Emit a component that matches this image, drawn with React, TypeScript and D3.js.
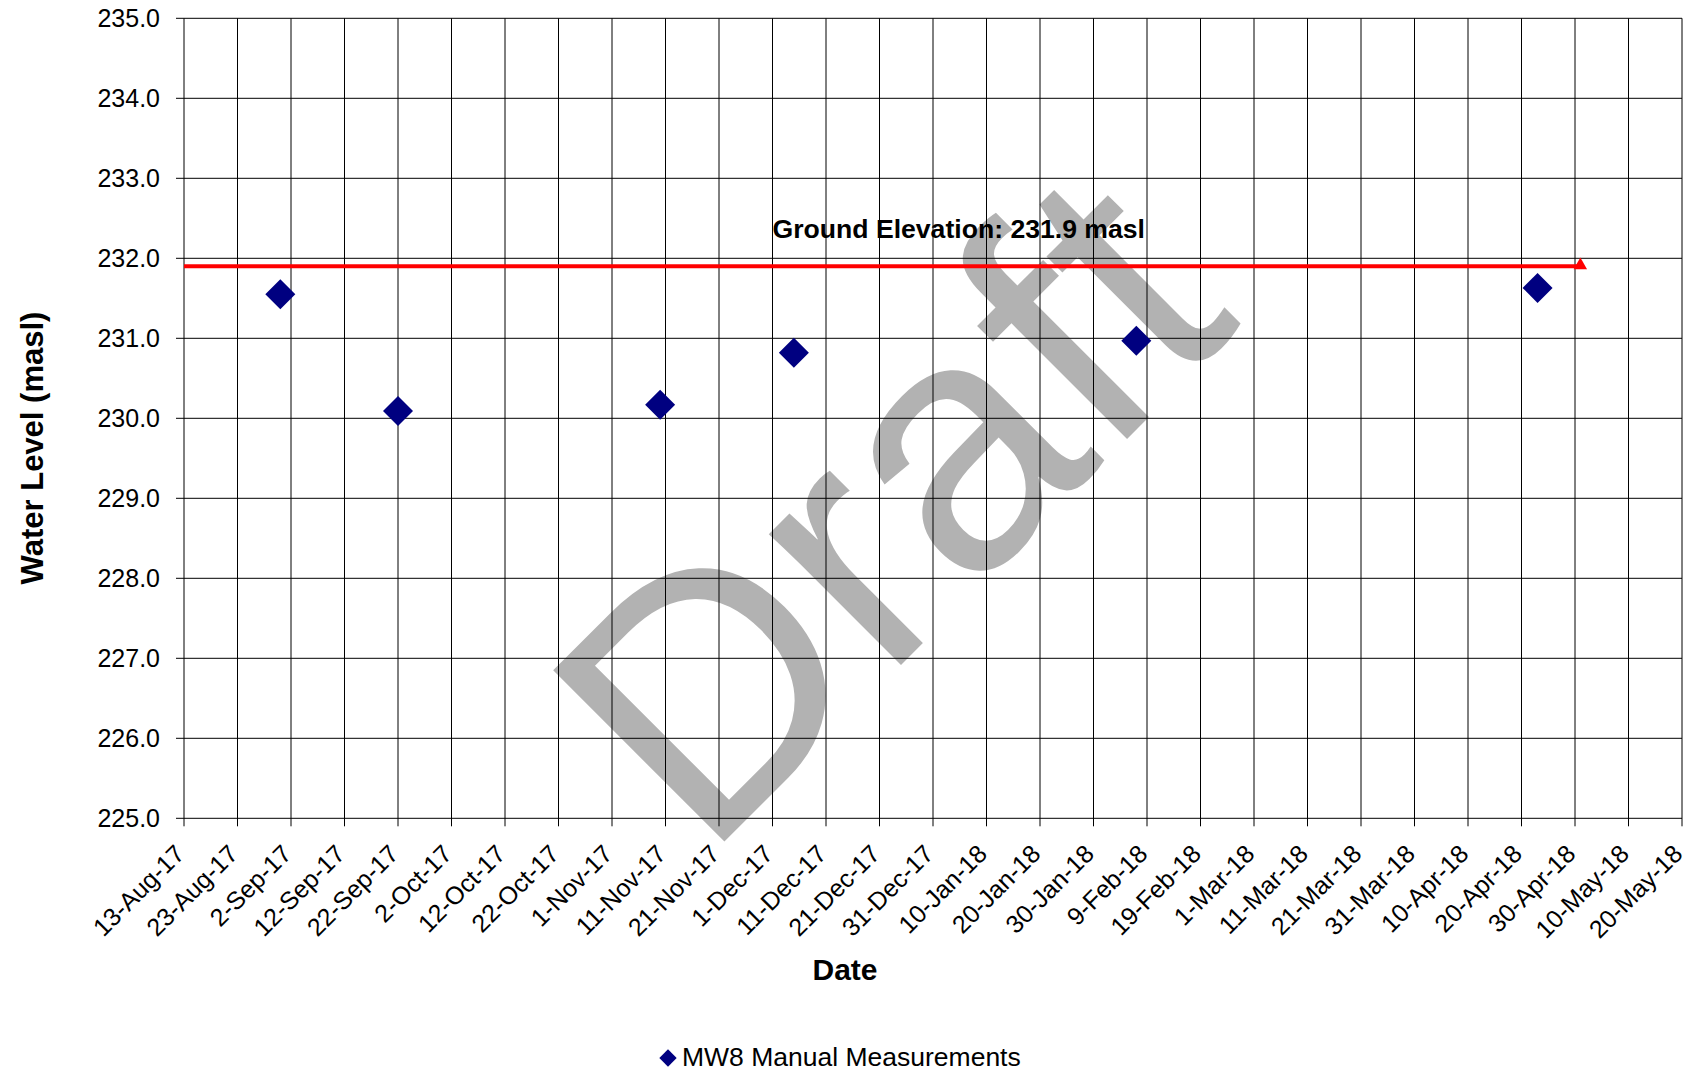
import React, { useEffect, useRef } from "react";
import * as d3 from "d3";

// ── Data ──────────────────────────────────────────────────────────────────────
const measureDates = ["2017-08-31", "2017-09-22", "2017-11-10", "2017-12-05", "2018-02-07", "2018-04-23"];
const measureLevels = [231.55, 230.09, 230.17, 230.82, 230.97, 231.63];

const groundDates = ["2017-08-13", "2018-05-01"];
const groundLevel = 231.9;
const groundLabel = "Ground Elevation: 231.9 masl";
const groundLabelDate = "2017-12-01";

const yTicks = [225, 226, 227, 228, 229, 230, 231, 232, 233, 234, 235];
const xStart = "2017-08-13";
const xEnd = "2018-05-20";

const seriesName = "MW8 Manual Measurements";
const yTitle = "Water Level (masl)";
const xTitle = "Date";
const watermark = "Draft";

const W = 1696;
const H = 1073;
const M = { left: 184, right: 14, top: 18.3, bottom: 254.7 };
const FONT = "'Liberation Sans', Arial, sans-serif";

const parse = d3.timeParse("%Y-%m-%d");
const fmt = d3.timeFormat("%-d-%b-%y");

export default function App() {
  const ref = useRef<SVGSVGElement>(null);

  useEffect(() => {
    const svg = d3.select(ref.current);
    svg.selectAll("*").remove();

    const x = d3
      .scaleTime()
      .domain([parse(xStart)!, parse(xEnd)!])
      .range([M.left, W - M.right]);
    const y = d3
      .scaleLinear()
      .domain([225, 235])
      .range([H - M.bottom, M.top]);

    // a tick every 10 days, starting on the first day
    const xTicks = d3.timeDay
      .range(parse(xStart)!, d3.timeDay.offset(parse(xEnd)!, 1))
      .filter((_, i) => i % 10 === 0);

    svg.append("rect").attr("width", W).attr("height", H).attr("fill", "#fff");

    // watermark sits behind the grid
    svg
      .append("text")
      .attr("transform", "translate(704,862) rotate(-45)")
      .attr("font-family", FONT)
      .attr("font-size", 352)
      .attr("fill", "#b2b2b2")
      .text(watermark);

    // grid + tick marks
    const grid = svg.append("g").attr("stroke", "#000").attr("stroke-width", 1);
    grid
      .selectAll("line.h")
      .data(yTicks)
      .join("line")
      .attr("class", "h")
      .attr("x1", M.left - 8)
      .attr("x2", W - M.right)
      .attr("y1", (d) => y(d))
      .attr("y2", (d) => y(d));
    grid
      .selectAll("line.v")
      .data(xTicks)
      .join("line")
      .attr("class", "v")
      .attr("x1", (d) => x(d))
      .attr("x2", (d) => x(d))
      .attr("y1", M.top)
      .attr("y2", H - M.bottom + 8);

    // y labels
    svg
      .append("g")
      .selectAll("text")
      .data(yTicks)
      .join("text")
      .attr("x", M.left - 24)
      .attr("y", (d) => y(d))
      .attr("dy", "0.36em")
      .attr("text-anchor", "end")
      .attr("font-family", FONT)
      .attr("font-size", 25)
      .attr("fill", "#000")
      .text((d) => d.toFixed(1));

    // x labels (rotated)
    svg
      .append("g")
      .selectAll("text")
      .data(xTicks)
      .join("text")
      .attr("transform", (d) => `translate(${x(d) + 2},${H - M.bottom + 37}) rotate(-45)`)
      .attr("text-anchor", "end")
      .attr("font-family", FONT)
      .attr("font-size", 25)
      .attr("fill", "#000")
      .text((d) => fmt(d));

    // ground elevation line
    const line = d3
      .line<string>()
      .x((d) => x(parse(d)!))
      .y(() => y(groundLevel));
    svg
      .append("path")
      .attr("d", line(groundDates))
      .attr("fill", "none")
      .attr("stroke", "#ff0000")
      .attr("stroke-width", 4);
    svg
      .append("path")
      .attr("d", d3.symbol(d3.symbolTriangle, 78)())
      .attr("transform", `translate(${x(parse(groundDates[1])!)},${y(groundLevel) - 1})`)
      .attr("fill", "#ff0000");

    svg
      .append("text")
      .attr("x", x(parse(groundLabelDate)!))
      .attr("y", y(groundLevel) - 28)
      .attr("font-family", FONT)
      .attr("font-size", 26.6)
      .attr("font-weight", "bold")
      .attr("fill", "#000")
      .text(groundLabel);

    // measurements
    const diamond = d3.symbol(d3.symbolSquare, 450)();
    svg
      .append("g")
      .selectAll("path")
      .data(measureDates.map((d, i) => ({ d: parse(d)!, v: measureLevels[i] })))
      .join("path")
      .attr("d", diamond)
      .attr("transform", (p) => `translate(${x(p.d)},${y(p.v)}) rotate(45)`)
      .attr("fill", "#000080");

    // axis titles
    svg
      .append("text")
      .attr("transform", `translate(43,448) rotate(-90)`)
      .attr("text-anchor", "middle")
      .attr("font-family", FONT)
      .attr("font-size", 31)
      .attr("font-weight", "bold")
      .attr("fill", "#000")
      .text(yTitle);
    svg
      .append("text")
      .attr("x", 845)
      .attr("y", 980)
      .attr("text-anchor", "middle")
      .attr("font-family", FONT)
      .attr("font-size", 30)
      .attr("font-weight", "bold")
      .attr("fill", "#000")
      .text(xTitle);

    // legend
    const lg = svg.append("g").attr("transform", "translate(668,1058)");
    lg.append("path")
      .attr("d", d3.symbol(d3.symbolSquare, 150)())
      .attr("transform", "rotate(45)")
      .attr("fill", "#000080");
    lg.append("text")
      .attr("x", 14)
      .attr("y", 8)
      .attr("font-family", FONT)
      .attr("font-size", 26.5)
      .attr("fill", "#000")
      .text(seriesName);
  }, []);

  return (
    <svg
      ref={ref}
      width={W}
      height={H}
      style={{ position: "absolute", left: 0, top: 0, display: "block" }}
    />
  );
}
